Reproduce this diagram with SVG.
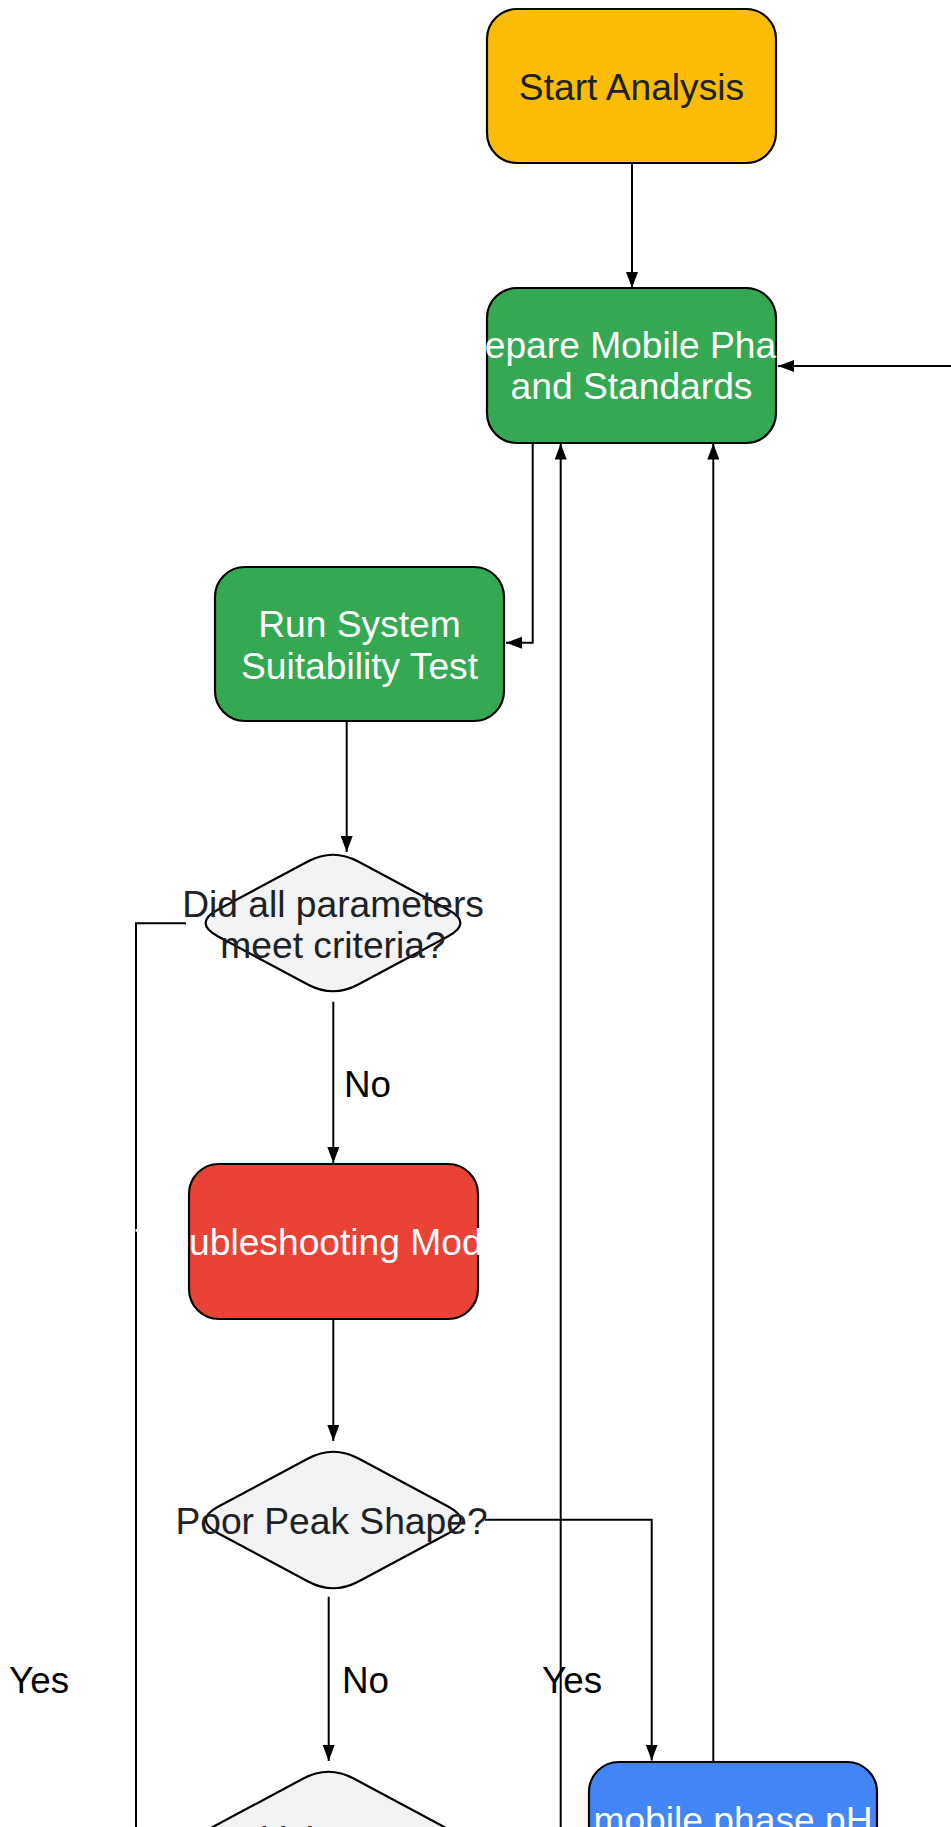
<svg xmlns="http://www.w3.org/2000/svg" xmlns:xlink="http://www.w3.org/1999/xlink" width="951" height="1827" viewBox="0 0 951 1827">
<style>
  .node { stroke: #000; stroke-width: 2.2; }
  .start { fill: #FBBC05; }
  .green { fill: #34A853; }
  .red { fill: #EA4335; }
  .blue { fill: #4285F4; }
  .dec { fill: #F1F3F4; }
  .t { font-family: "Liberation Sans", Arial, sans-serif; font-size: 37.2px; text-anchor: middle; }
  .dark { fill: #202124; }
  .light { fill: #FFFFFF; }
  .edge { fill: none; stroke: #000; stroke-width: 2; }
  .lbl { font-family: "Liberation Sans", Arial, sans-serif; font-size: 36.8px; fill: #000; }
</style>
<defs>
  <marker id="arr" markerWidth="16" markerHeight="12" refX="16" refY="6" orient="auto" markerUnits="userSpaceOnUse">
    <path d="M0,0 L16,6 L0,12 Z" fill="#000"/>
  </marker>
  <path id="dia" d="M-25.2,-61.5 Q0,-75 25.2,-61.5 L114.8,-13.5 Q140,0 114.8,13.5 L25.2,61.5 Q0,75 -25.2,61.5 L-114.8,13.5 Q-140,0 -114.8,-13.5 Z"/>
</defs>
<rect width="951" height="1827" fill="#FFFFFF"/>

<g id="connectors">
  <line class="edge" x1="632" y1="163" x2="632" y2="288" marker-end="url(#arr)"/>
  <path class="edge" d="M532.7,443 V642.7 H506" marker-end="url(#arr)"/>
  <line class="edge" x1="346.7" y1="721" x2="346.7" y2="852" marker-end="url(#arr)"/>
  <line class="edge" x1="333.3" y1="1001.7" x2="333.3" y2="1163" marker-end="url(#arr)"/>
  <path class="edge" d="M186,923.3 H136 V1840"/>
  <line class="edge" x1="333.3" y1="1319" x2="333.3" y2="1441" marker-end="url(#arr)"/>
  <line class="edge" x1="328.7" y1="1596.7" x2="328.7" y2="1761" marker-end="url(#arr)"/>
  <path class="edge" d="M485,1519.7 H651.7 V1760.5" marker-end="url(#arr)"/>
  <line class="edge" x1="713.3" y1="1762" x2="713.3" y2="443.5" marker-end="url(#arr)"/>
  <line class="edge" x1="560.7" y1="1840" x2="560.7" y2="443.5" marker-end="url(#arr)"/>
  <line class="edge" x1="960" y1="366" x2="778" y2="366" marker-end="url(#arr)"/>
  <text class="lbl" x="344" y="1097">No</text>
  <text class="lbl" x="9" y="1693">Yes</text>
  <text class="lbl" x="342" y="1693">No</text>
  <text class="lbl" x="542" y="1693">Yes</text>
</g>

<g id="start">
  <rect class="node start" x="487" y="9" width="289" height="154" rx="30"/>
  <text class="t dark" x="631.5" y="100">Start Analysis</text>
</g>

<g id="prepare">
  <rect class="node green" x="487" y="288" width="289" height="155" rx="30"/>
  <text class="t light" x="631.5" y="358">Prepare Mobile Phase</text>
  <text class="t light" x="631.5" y="399">and Standards</text>
</g>

<g id="sst">
  <rect class="node green" x="215" y="567" width="289" height="154" rx="30"/>
  <text class="t light" x="359.5" y="637">Run System</text>
  <text class="t light" x="359.5" y="679">Suitability Test</text>
</g>

<g id="criteria">
  <use href="#dia" xlink:href="#dia" class="node dec" x="333" y="923"/>
  <text class="t dark" x="333" y="916.7">Did all parameters</text>
  <text class="t dark" x="333" y="958.3">meet criteria?</text>
</g>

<g id="trouble">
  <rect class="node red" x="189" y="1164" width="289" height="155" rx="30"/>
  <text class="t light" x="319" y="1255">Troubleshooting Mode</text>
</g>

<g id="peak">
  <use href="#dia" xlink:href="#dia" class="node dec" x="333.3" y="1520"/>
  <text class="t dark" x="331.5" y="1534">Poor Peak Shape?</text>
</g>

<g id="ph">
  <rect class="node blue" x="589" y="1762" width="288" height="155" rx="30"/>
  <text class="t light" x="733" y="1833">mobile phase pH</text>
</g>

<g id="decision3">
  <use href="#dia" xlink:href="#dia" class="node dec" x="328.5" y="1840"/>
  <text class="t dark" x="328.5" y="1853">Sensitivity Issues?</text>
</g>
</svg>
